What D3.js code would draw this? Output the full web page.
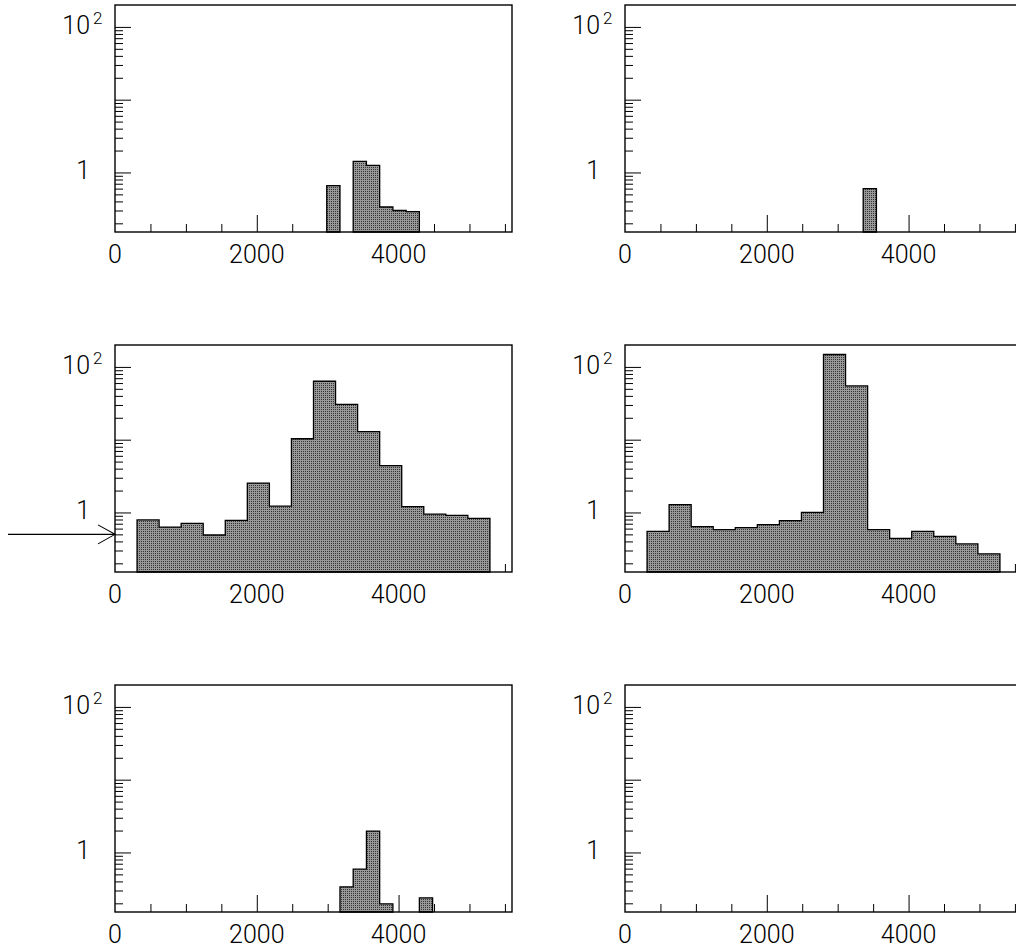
<!DOCTYPE html>
<html lang="en">
<head>
<meta charset="UTF-8">
<style>
  body { margin: 0; background: #fff; }
  text { font-family: Roboto, "DejaVu Sans", sans-serif; font-weight: 300; fill: #000; }
</style>
</head>
<body>
<svg id="chart" width="1016" height="949"></svg>
<script src="https://d3js.org/d3.v7.min.js"></script>
<script>

// x range of every histogram, and its two binnings
var xMax = 5600;
var fineBins = 30;     // top row + bottom row
var coarseBins = 18;   // middle row

// bin contents (0 = empty bin, not drawn on the log scale)
var topLeft = [0,0,0,0,0,0,0,0,0,0,0,0,0,0,0,0, 0.66,0, 1.42,1.25,0.335,0.30,0.29, 0,0,0,0,0,0,0];
var topRight = [0,0,0,0,0,0,0,0,0,0,0,0,0,0,0,0,0,0, 0.60, 0,0,0,0,0,0,0,0,0,0,0];
var midLeft = [0, 0.79,0.63,0.71,0.49,0.78,2.53,1.22,10.3,63.5,30.6,12.9,4.39,1.20,0.95,0.91,0.83, 0];
var midRight = [0, 0.55,1.28,0.64,0.58,0.62,0.68,0.77,1.0,148,54.8,0.58,0.44,0.55,0.47,0.37,0.27, 0];
var botLeft = [0,0,0,0,0,0,0,0,0,0,0,0,0,0,0,0,0, 0.337,0.59,1.97,0.197, 0,0, 0.238, 0,0,0,0,0,0];
var botRight = [0,0,0,0,0,0,0,0,0,0,0,0,0,0,0,0,0,0,0,0,0,0,0,0,0,0,0,0,0,0];

var panels = [topLeft, topRight, midLeft, midRight, botLeft, botRight];

// axis values
var yDomain = [0.152, 200];
var yMajor = [1, 10, 100];
var yLabels = [{v: 1, base: "1", sup: ""}, {v: 100, base: "10", sup: "2"}];
var xMajor = [2000, 4000];
var xMinor = [500, 1000, 1500, 2500, 3000, 3500, 4500, 5000, 5500];
var xLabels = [0, 2000, 4000];
var arrowValue = 0.5;  // marker on the middle-left panel

var svg = d3.select("#chart");
var pw = 397, ph = 227;
var colX = [115, 625], rowY = [5, 345, 685];

var x = d3.scaleLinear().domain([0, xMax]).range([0, pw]);
var y = d3.scaleLog().domain(yDomain).range([ph, 0]);

var yMinor = [];
[0.1, 1, 10, 100].forEach(function(d) {
  for (var k = 2; k <= 9; k++) {
    var v = k * d;
    if (v > yDomain[0] && v < yDomain[1]) yMinor.push(v);
  }
});

// dotted grey fill
var pat = svg.append("defs").append("pattern")
  .attr("id", "dots").attr("patternUnits", "userSpaceOnUse")
  .attr("width", 2).attr("height", 2);
pat.append("rect").attr("width", 2).attr("height", 2).attr("fill", "#999");
pat.append("rect").attr("width", 1).attr("height", 1).attr("fill", "#333");

var line = d3.line();

panels.forEach(function(vals, i) {
  var g = svg.append("g")
    .attr("transform", "translate(" + colX[i % 2] + "," + rowY[Math.floor(i / 2)] + ")");

  // ticks (inside the frame)
  var tk = function(sel) { sel.select(".domain").remove(); sel.selectAll("line").attr("stroke", "#000"); };
  g.append("g").attr("transform", "translate(0," + ph + ")")
    .call(d3.axisTop(x).tickValues(xMinor).tickSize(8).tickFormat("")).call(tk);
  g.append("g").attr("transform", "translate(0," + ph + ")")
    .call(d3.axisTop(x).tickValues(xMajor).tickSize(17).tickFormat("")).call(tk);
  g.append("g").call(d3.axisRight(y).tickValues(yMinor).tickSize(8).tickFormat("")).call(tk);
  g.append("g").call(d3.axisRight(y).tickValues(yMajor).tickSize(16).tickFormat("")).call(tk);

  // histogram as step outline, one polygon per run of filled bins
  var bw = xMax / vals.length;
  var runs = [], cur = null;
  vals.forEach(function(v, b) {
    if (v > 0) {
      if (!cur) { cur = [[x(b * bw), y(yDomain[0])]]; runs.push(cur); }
      cur.push([x(b * bw), y(v)], [x((b + 1) * bw), y(v)]);
    } else if (cur) {
      cur.push([x(b * bw), y(yDomain[0])]); cur = null;
    }
  });
  if (cur) cur.push([x(xMax), y(yDomain[0])]);

  g.selectAll("path.hist").data(runs).enter().append("path")
    .attr("class", "hist")
    .attr("d", function(d) { return line(d) + "Z"; })
    .attr("fill", "url(#dots)")
    .attr("stroke", "#000")
    .attr("stroke-width", 1.3);

  // frame
  g.append("rect").attr("width", pw).attr("height", ph)
    .attr("fill", "none").attr("stroke", "#000").attr("stroke-width", 1.4);

  // x labels
  g.selectAll("text.xl").data(xLabels).enter().append("text")
    .attr("class", "xl")
    .attr("x", function(d) { return x(d); })
    .attr("y", ph + 31)
    .attr("text-anchor", "middle")
    .style("font-size", "25px")
    .text(function(d) { return d; });

  // y labels, 10^2 with a raised exponent
  yLabels.forEach(function(l) {
    g.append("text")
      .attr("x", -25).attr("y", y(l.v) + 7)
      .attr("text-anchor", "end")
      .style("font-size", "25px")
      .text(l.base);
    if (l.sup) {
      g.append("text")
        .attr("x", -22).attr("y", y(l.v) - 3)
        .style("font-size", "17px")
        .text(l.sup);
    }
  });

  if (i === 2) {
    var ay = y(arrowValue);
    g.append("path")
      .attr("d", "M" + (8 - colX[0]) + "," + ay + "H0M-17," + (ay - 9.5) + "L0," + ay + "L-17," + (ay + 9.5))
      .attr("fill", "none").attr("stroke", "#000").attr("stroke-width", 1.1);
  }
});
</script>
</body>
</html>
